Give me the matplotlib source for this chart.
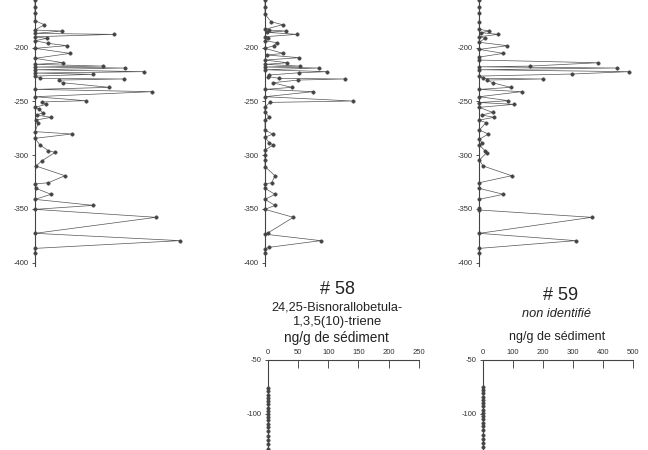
import matplotlib
matplotlib.use("Agg")
import matplotlib.pyplot as plt

plt.rcParams['font.family'] = ['Liberation Sans', 'DejaVu Sans']
plt.rcParams['axes.unicode_minus'] = False

# ---------------- data (depth, ng/g) ----------------
left_depth = [-155.7, -161.9, -168.1, -174.9, -178.6, -183.6, -184.5, -186.7, -187.6, -189.8,
              -191.3, -193.5, -196.0, -198.1, -200.6, -205.3, -209.9, -214.0, -215.5, -217.1,
              -218.0, -218.9, -220.5, -222.3, -223.6, -224.8, -226.4, -228.5, -229.1, -230.1,
              -232.6, -236.9, -238.8, -240.9, -245.6, -249.3, -250.5, -252.7, -255.5, -257.4,
              -260.5, -262.6, -264.8, -267.3, -269.8, -278.1, -280.3, -284.3, -290.5, -295.8,
              -297.4, -305.4, -310.1, -319.1, -325.6, -326.8, -330.9, -336.4, -341.1, -346.7,
              -350.4, -357.8, -372.7, -379.5, -386.7, -391.3]
left_value = [0, 0, 0, 0, 15.6, 0, 45.6, 0, 132, 0,
              19.4, 0, 22.2, 52.8, 0, 58.3, 0, 47.2, 0, 112.8,
              0, 150, 0, 181.7, 0, 96.1, 0, 8.3, 148.3, 40.6,
              46.1, 123.9, 0, 195.6, 0, 84.4, 11.1, 18.3, 0, 7.2,
              12.8, 2.8, 26.7, 1.7, 5.6, 0, 61.1, 0, 8.3, 22.2,
              33.3, 11.1, 1.7, 50, 22.2, 0, 1.7, 26.7, 0, 97.2,
              0, 201.7, 0, 241.7, 0, 0]

mid_depth = [-155.7, -162.5, -168.7, -175.8, -178.6, -182.9, -183.6, -184.5, -185.7, -187.6,
             -189.8, -191.3, -193.5, -195.3, -198.1, -200.6, -205.3, -206.8, -209.3, -211.5,
             -214.0, -215.5, -217.1, -218.0, -218.9, -220.5, -222.3, -223.3, -225.4, -227.0,
             -228.5, -229.1, -230.1, -232.6, -236.9, -238.8, -240.9, -245.6, -249.6, -250.9,
             -254.9, -259.5, -264.8, -267.3, -276.6, -280.3, -283.4, -288.4, -290.5, -295.2,
             -300.0, -304.6, -310.7, -319.1, -325.6, -326.8, -330.9, -336.4, -341.1, -346.7,
             -350.4, -357.8, -372.1, -373.5, -379.5, -385.7, -387.0, -391.3]
mid_value = [0, 0, 0, 10, 29.4, 0, 7.2, 35, 3.9, 52.8,
             0, 5.6, 0, 19.4, 15, 0, 30.6, 3.9, 57.2, 0,
             37.2, 0, 58.3, 0, 90.6, 0, 103.9, 57.2, 7.2, 5.6,
             23.9, 133.3, 55.6, 12.8, 44.4, 0, 80.6, 0, 146.1, 8.3,
             0, 0, 7.2, 0, 0, 12.8, 0, 7.2, 13.9, 0,
             0, 0, 0, 16.7, 11.1, 0, 0, 16.7, 0, 16.7,
             0, 47.2, 5.6, 0, 92.8, 7.2, 0, 0]

right_depth = [-155.7, -161.9, -168.1, -175.8, -182.9, -184.5, -186.0, -187.6, -189.8, -191.3,
               -195.0, -198.1, -201.6, -205.3, -208.7, -211.5, -214.0, -217.1, -217.8, -218.9,
               -220.5, -222.3, -224.5, -226.4, -228.5, -229.1, -230.1, -232.6, -236.9, -238.8,
               -240.9, -245.6, -249.3, -251.0, -252.7, -255.5, -260.2, -262.6, -264.8, -267.3,
               -269.8, -276.6, -280.3, -285.2, -288.4, -290.5, -295.8, -297.7, -304.6, -310.1,
               -319.1, -325.6, -330.9, -336.4, -341.1, -349.5, -351.0, -357.8, -372.7, -379.5,
               -386.7, -391.3]
right_value = [0, 0, 0, 0, 0, 33.3, 4.4, 63.3, 0, 18.9,
               0, 93.3, 0, 80, 0, 0, 396.7, 168.9, 0, 457.8,
               0, 500, 307.8, 0, 13.3, 211.1, 24.4, 44.4, 104.4, 0,
               141.1, 0, 96.7, 0, 115.6, 0, 44.4, 8.9, 48.9, 0,
               22.2, 0, 30, 0, 8.9, 0, 18.9, 24.4, 0, 13.3,
               107.8, 0, 0, 80, 0, 0, 0, 374.4, 0, 321.1,
               0, 0]

b58_depth = [-76, -79, -82, -85, -88, -91, -94, -97, -100, -103, -106, -109, -112, -116, -120,
             -124, -128, -132, -136]
b58_value = [0] * len(b58_depth)
b59_depth = [-75, -78, -81, -84, -87, -90, -93, -96, -99, -102, -105, -108, -111, -115, -119,
             -123, -127, -131, -135]
b59_value = [0] * len(b59_depth)

top_yticks = [-200, -250, -300, -350, -400]
b58_xticks = [0, 50, 100, 150, 200, 250]
b59_xticks = [0, 100, 200, 300, 400, 500]
bottom_yticks = [-50, -100]

W, H = 648, 450
fig = plt.figure(figsize=(W / 100, H / 100), dpi=100)
fig.patch.set_facecolor('white')

LC = '#555555'
MC = '#444444'
TC = '#333333'


def px_rect(x0, width_px, y_top, y_bot):
    return [x0 / W, 1 - y_bot / H, width_px / W, (y_bot - y_top) / H]


def style(ax):
    for s in ['right', 'bottom']:
        ax.spines[s].set_visible(False)
    for s in ['left', 'top']:
        ax.spines[s].set_color('#444444')
        ax.spines[s].set_linewidth(0.8)
    ax.tick_params(axis='y', direction='out', length=2.5, width=0.6, pad=2,
                   labelsize=5.5, colors=TC)
    ax.set_facecolor('none')


def plot_profile(ax, depth, value):
    ax.plot(value, depth, color=LC, lw=0.5, marker='o', ms=2.5,
            mfc=MC, mec=MC, mew=0.3, clip_on=False)


# Top row (cropped at the top of the figure)
top_specs = [(35, left_depth, left_value, 250),
             (265, mid_depth, mid_value, 250),
             (479.3, right_depth, right_value, 500)]
for x0, d, v, xmax in top_specs:
    ax = fig.add_axes(px_rect(x0, 150, -6.05, 265.9))
    style(ax)
    ax.spines['top'].set_visible(False)
    plot_profile(ax, d, v)
    ax.set_xlim(0, xmax)
    ax.set_ylim(-403, -150)
    ax.set_yticks(top_yticks)
    ax.set_xticks([])

# Bottom row
bottom_specs = [(267.7, 151.3, b58_depth, b58_value, 250, b58_xticks),
                (482.7, 150.6, b59_depth, b59_value, 500, b59_xticks)]
for x0, w, d, v, xmax, xt in bottom_specs:
    ax = fig.add_axes(px_rect(x0, w, 360, 468))
    style(ax)
    plot_profile(ax, d, v)
    ax.set_xlim(0, xmax)
    ax.set_ylim(-150, -50)
    ax.set_yticks(bottom_yticks)
    ax.set_xticks(xt)
    ax.xaxis.tick_top()
    ax.tick_params(axis='x', direction='in', length=6, width=0.6, pad=3,
                   labelsize=5.5, colors=TC)


def ftext(x, y, s, **kw):
    fig.text(x / W, 1 - y / H, s, ha='center', va='center', color='#222222', **kw)


ftext(337, 289, '# 58', fontsize=13)
ftext(337, 307, '24,25-Bisnorallobetula-', fontsize=9.2)
ftext(337, 322, '1,3,5(10)-triene', fontsize=9.4)
ftext(336, 338, 'ng/g de sédiment', fontsize=9.8)

ftext(561, 296, '# 59', fontsize=13)
ftext(557, 314, 'non identifié', fontsize=9.2, style='italic')
ftext(557, 337, 'ng/g de sédiment', fontsize=9)

fig.savefig('out.png', dpi=100, facecolor='white')
